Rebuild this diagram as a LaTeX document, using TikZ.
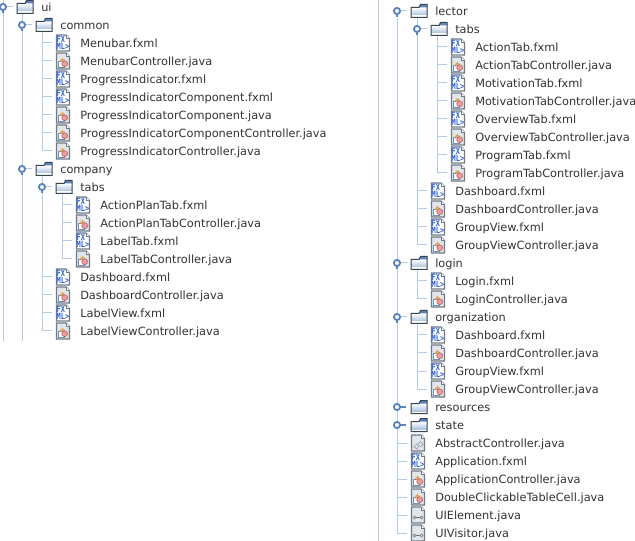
\documentclass[tikz,border=0pt]{standalone}
\usepackage{fontspec}
\setmainfont{DejaVu Sans}
\newfontfamily\iconfont{DejaVu Sans Mono Bold}
\definecolor{treeline}{HTML}{B4CBE3}
\definecolor{knobc}{HTML}{5B84BC}
\definecolor{docedge}{HTML}{6F7B88}
\definecolor{docgrey}{HTML}{E2E5E9}
\definecolor{fxblue}{HTML}{2F62D6}
\definecolor{txt}{HTML}{333333}
\definecolor{foldermid}{HTML}{A6C0DD}
\definecolor{folderedge}{HTML}{3A4552}
\definecolor{housec}{HTML}{6F90B8}
\definecolor{orangec}{HTML}{E3A85A}
\definecolor{pinkc}{HTML}{EB9C9C}
\tikzset{
  x=0.75pt,y=-0.75pt,
  tree/.style={draw=treeline,line width=0.75pt},
  knobmark/.style={circle,draw=knobc,line width=1.4pt,fill=white,minimum size=4.6pt,inner sep=0pt},
  knobstub/.style={draw=knobc,line width=1.4pt},
  itemlabel/.style={anchor=base west,inner sep=0pt,text=txt,font=\fontsize{8.5pt}{10pt}\selectfont},
  iconbox/.style={minimum width=16.5pt,minimum height=12pt,inner sep=0pt},
  folderbox/.style={minimum width=12pt,minimum height=10pt,inner sep=0pt},
  docfill/.style={draw=docedge,line width=0.8pt,fill=#1},
  fxtext/.style={inner sep=0pt,align=left,text=fxblue,font=\iconfont\fontsize{5.2pt}{5.6pt}\selectfont},
}
\newcommand\docshape[1]{%
  \draw[docfill=#1] (-6.5,-8) -- (3,-8) -- (6.5,-4.5) -- (6.5,8) -- (-6.5,8) -- cycle;
  \draw[draw=docedge,line width=0.5pt,fill=white] (3,-8) -- (3,-4.5) -- (6.5,-4.5);
}
\tikzset{
  fxmlicon/.pic={
    \docshape{white}
    \node[fxtext] at (0,0) {\scalebox{1}[1.25]{FX}\\\scalebox{1}[1.25]{ML>}};
  },
  classicon/.pic={
    \docshape{docgrey}
    \draw[draw=housec,line width=0.7pt,fill=white] (-5,0.5) rectangle (1,6);
    \fill[fill=orangec] (-3,-0.5) -- (-0.5,-3.2) -- (2,-0.5) -- (-0.5,2) -- cycle;
    \fill[fill=pinkc,draw=red!50!black!70,line width=0.3pt] (1.7,2.7) circle (3);
  },
  abstracticon/.pic={
    \docshape{docgrey}
    \draw[draw=docedge!80,line width=0.5pt] (-4,4) -- (-1,1) -- (1,3) -- (-1,6) -- cycle;
    \draw[draw=docedge!80,line width=0.5pt] (0,1) -- (2.5,-1.5) -- (5,1) -- (2.5,4);
  },
  keyicon/.pic={
    \docshape{docgrey}
    \draw[draw=black!55,line width=0.5pt] (-3.5,2.5) circle (1.5);
    \draw[draw=black!55,line width=0.5pt] (3.5,2.5) circle (1.5);
    \draw[draw=black!55,line width=0.5pt] (-2,2.5) -- (2,2.5);
  },
  foldericon/.pic={
    \shade[top color=white,bottom color=foldermid] (-8,-3.5) rectangle (8,4.5);
    \fill[white] (-8,4.5) rectangle (8,6.5);
    \fill[fill=knobc] (1.5,-6.5) -- (8,-6.5) -- (8,-3.5) -- (0,-3.5) -- cycle;
    \draw[draw=folderedge,line width=0.75pt] (-8,-3.5) -- (0,-3.5) -- (1.5,-6.5) -- (8,-6.5) -- (8,6.5) -- (-8,6.5) -- cycle;
  },
}
\newcommand\leafitem[5]{%
  \coordinate (#1-k) at (#2,#3);
  \node[iconbox] (#1-i) at (#2+21,#3) {};
  \pic at (#2+21,#3) {#4};
  \node[itemlabel] (#1) at (#2+38,#3+4.8) {#5};
  \draw[tree] (#1-k) -- (#1-i.west);
}
\newcommand\folderitem[4]{%
  \coordinate (#1-k) at (#2,#3);
  \node[folderbox] (#1-i) at (#2+22,#3) {};
  \pic at (#2+22,#3) {foldericon};
  \node[itemlabel] (#1) at (#2+38,#3+4.8) {#4};
}
\newcommand\knobopen[1]{%
  \draw[knobstub] (#1-k) -- ++(0,6);
  \draw[tree] (#1-k) -- ++(10,0);
  \node[knobmark] at (#1-k) {};
}
\newcommand\knobclosed[1]{%
  \draw[knobstub] (#1-k) -- ++(9,0);
  \node[knobmark] at (#1-k) {};
}
\newcommand\rail[2]{\draw[tree] (#1-i.south -| #2-k) -- (#2-k);}
\begin{document}
\begin{tikzpicture}
\useasboundingbox (0,0) rectangle (635,541);
\fill[white] (0,0) rectangle (635,541);
\coordinate (l1top) at (3,0); \coordinate (l1end) at (3,341);
\coordinate (l2end) at (22,341);
\coordinate (r1top) at (378,0); \coordinate (r1end) at (378,541);
\draw[tree] (l1top) -- (l1end);
\draw[tree] (r1top) -- (r1end);

\folderitem{ui}{3}{7}{ui}
\draw[tree] (ui-i.south -| l2end) -- (l2end);
\folderitem{common}{22}{25}{common}
\leafitem{a1}{42}{43}{fxmlicon}{Menubar.fxml}
\leafitem{a2}{42}{61}{classicon}{MenubarController.java}
\leafitem{a3}{42}{79}{fxmlicon}{ProgressIndicator.fxml}
\leafitem{a4}{42}{97}{fxmlicon}{ProgressIndicatorComponent.fxml}
\leafitem{a5}{42}{115}{classicon}{ProgressIndicatorComponent.java}
\leafitem{a6}{42}{133}{classicon}{ProgressIndicatorComponentController.java}
\leafitem{a7}{42}{151}{classicon}{ProgressIndicatorController.java}
\rail{common}{a7}
\folderitem{company}{22}{169}{company}
\folderitem{ctabs}{42}{187}{tabs}
\leafitem{b1}{62}{205}{fxmlicon}{ActionPlanTab.fxml}
\leafitem{b2}{62}{223}{classicon}{ActionPlanTabController.java}
\leafitem{b3}{62}{241}{fxmlicon}{LabelTab.fxml}
\leafitem{b4}{62}{259}{classicon}{LabelTabController.java}
\rail{ctabs}{b4}
\leafitem{c1}{42}{277}{fxmlicon}{Dashboard.fxml}
\leafitem{c2}{42}{295}{classicon}{DashboardController.java}
\leafitem{c3}{42}{313}{fxmlicon}{LabelView.fxml}
\leafitem{c4}{42}{331}{classicon}{LabelViewController.java}
\rail{company}{c4}
\knobopen{ui}\knobopen{common}\knobopen{company}\knobopen{ctabs}

\folderitem{lector}{397}{11}{lector}
\folderitem{ltabs}{417}{29}{tabs}
\leafitem{d1}{437}{47}{fxmlicon}{ActionTab.fxml}
\leafitem{d2}{437}{65}{classicon}{ActionTabController.java}
\leafitem{d3}{437}{83}{fxmlicon}{MotivationTab.fxml}
\leafitem{d4}{437}{101}{classicon}{MotivationTabController.java}
\leafitem{d5}{437}{119}{fxmlicon}{OverviewTab.fxml}
\leafitem{d6}{437}{137}{classicon}{OverviewTabController.java}
\leafitem{d7}{437}{155}{fxmlicon}{ProgramTab.fxml}
\leafitem{d8}{437}{173}{classicon}{ProgramTabController.java}
\rail{ltabs}{d8}
\leafitem{e1}{417}{191}{fxmlicon}{Dashboard.fxml}
\leafitem{e2}{417}{209}{classicon}{DashboardController.java}
\leafitem{e3}{417}{227}{fxmlicon}{GroupView.fxml}
\leafitem{e4}{417}{245}{classicon}{GroupViewController.java}
\rail{lector}{e4}
\folderitem{login}{397}{263}{login}
\leafitem{f1}{417}{281}{fxmlicon}{Login.fxml}
\leafitem{f2}{417}{299}{classicon}{LoginController.java}
\rail{login}{f2}
\folderitem{org}{397}{317}{organization}
\leafitem{g1}{417}{335}{fxmlicon}{Dashboard.fxml}
\leafitem{g2}{417}{353}{classicon}{DashboardController.java}
\leafitem{g3}{417}{371}{fxmlicon}{GroupView.fxml}
\leafitem{g4}{417}{389}{classicon}{GroupViewController.java}
\rail{org}{g4}
\folderitem{res}{397}{407}{resources}
\folderitem{state}{397}{425}{state}
\leafitem{h1}{397}{443}{abstracticon}{AbstractController.java}
\leafitem{h2}{397}{461}{fxmlicon}{Application.fxml}
\leafitem{h3}{397}{479}{classicon}{ApplicationController.java}
\leafitem{h4}{397}{497}{classicon}{DoubleClickableTableCell.java}
\leafitem{h5}{397}{515}{keyicon}{UIElement.java}
\leafitem{h6}{397}{533}{keyicon}{UIVisitor.java}
\rail{lector}{h6}
\knobopen{lector}\knobopen{ltabs}\knobopen{login}\knobopen{org}
\knobclosed{res}\knobclosed{state}
\end{tikzpicture}
\end{document}
